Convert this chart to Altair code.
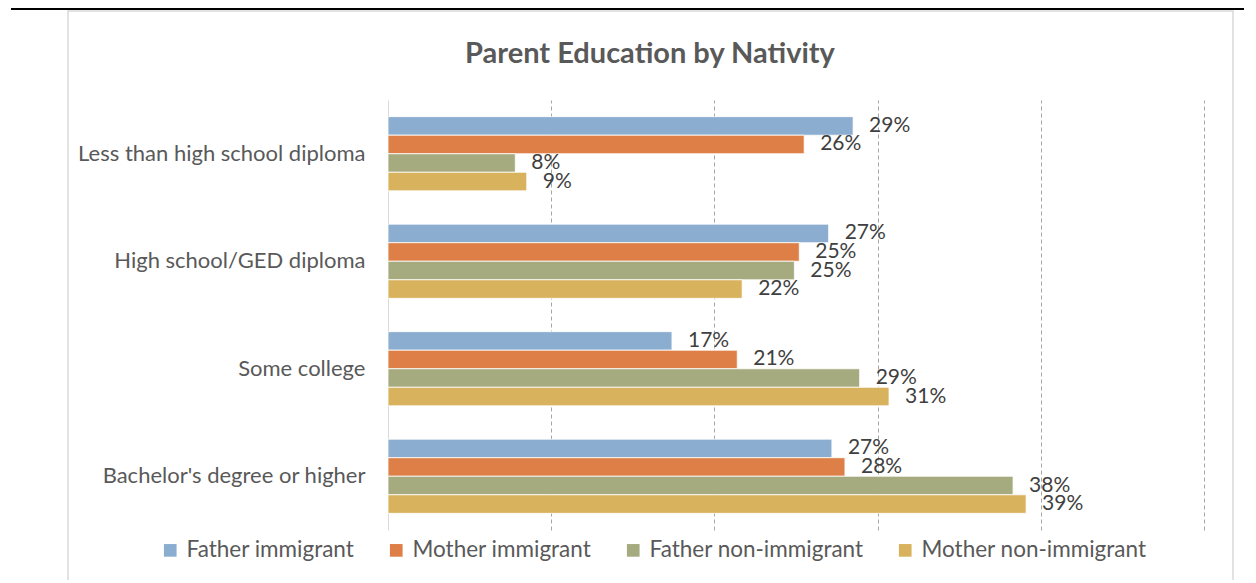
import altair as alt
import pandas as pd

title_text = "Parent Education by Nativity"
categories = ["Less than high school diploma", "High school/GED diploma",
              "Some college", "Bachelor's degree or higher"]
series = ["Father immigrant", "Mother immigrant", "Father non-immigrant", "Mother non-immigrant"]
colors = ["#8BADCF", "#DD7F46", "#A5AA7F", "#D8B25C"]

# values (fraction) per category, in series order
values = {
    "Less than high school diploma": [0.285, 0.255, 0.078, 0.085],
    "High school/GED diploma": [0.270, 0.252, 0.249, 0.217],
    "Some college": [0.174, 0.214, 0.289, 0.307],
    "Bachelor's degree or higher": [0.272, 0.280, 0.383, 0.391],
}
labels = {
    "Less than high school diploma": ["29%", "26%", "8%", "9%"],
    "High school/GED diploma": ["27%", "25%", "25%", "22%"],
    "Some college": ["17%", "21%", "29%", "31%"],
    "Bachelor's degree or higher": ["27%", "28%", "38%", "39%"],
}

rows = []
for c in categories:
    for s, v, l in zip(series, values[c], labels[c]):
        rows.append({"category": c, "series": s, "value": v, "label": l})
df = pd.DataFrame(rows)

FONT = "Lato"

y_enc = alt.Y("category:N", sort=categories,
              scale=alt.Scale(paddingInner=0.31, paddingOuter=0.155),
              axis=alt.Axis(title=None, ticks=False, domainColor="#d9d9d9", domainWidth=1,
                            labelFontSize=22, labelColor="#595959", labelFont=FONT,
                            labelPadding=23, labelLimit=400))
yoff = alt.YOffset("series:N", sort=series, scale=alt.Scale(paddingInner=0, paddingOuter=0))
x_enc = alt.X("value:Q", scale=alt.Scale(domain=[0, 0.5], nice=False),
              axis=alt.Axis(title=None, labels=False, ticks=False, domain=False,
                            values=[0.1, 0.2, 0.3, 0.4, 0.5], grid=True,
                            gridDash=[4, 3], gridColor="#a6a6a6", gridWidth=1))

base = alt.Chart(df)

bars = base.mark_bar(stroke="white", strokeWidth=0.8).encode(
    y=y_enc, yOffset=yoff, x=x_enc,
    color=alt.Color("series:N", sort=series,
                    scale=alt.Scale(domain=series, range=colors),
                    legend=alt.Legend(title=None, orient="none", direction="horizontal",
                                      columns=4, legendX=-229, legendY=439,
                                      symbolType="square", symbolSize=160,
                                      symbolStrokeWidth=0, labelFontSize=22.5,
                                      labelFont=FONT, labelColor="#595959",
                                      labelOffset=5, columnPadding=30, padding=0,
                                      labelLimit=400)),
)

texts = base.mark_text(align="left", baseline="middle", dx=16, fontSize=21,
                       font=FONT, color="#404040").encode(
    y=alt.Y("category:N", sort=categories), yOffset=alt.YOffset("series:N", sort=series),
    x="value:Q", text="label:N")

one = pd.DataFrame({"a": [0]})

frame = alt.Chart(one).mark_rect(
    fill=None, stroke="#d9d9d9", strokeWidth=1.5).encode(
    x=alt.value(-320), x2=alt.value(845), y=alt.value(-89), y2=alt.value(520))

topline = alt.Chart(one).mark_rect(fill="black").encode(
    x=alt.value(-377), x2=alt.value(856), y=alt.value(-92), y2=alt.value(-90))

title = alt.Chart(one).mark_text(
    fontSize=29, fontWeight="bold", font=FONT, color="#595959",
    align="center", baseline="middle").encode(
    x=alt.value(262), y=alt.value(-46), text=alt.value(title_text))

chart = alt.layer(frame, topline, title, bars, texts).properties(
    width=816, height=430,
    autosize=alt.AutoSizeParams(type="none"),
    padding={"left": 380, "top": 92, "right": 40, "bottom": 50},
).configure(background="white").configure_view(strokeWidth=0)

chart.save("out.html", embed_options={"renderer": "svg", "actions": False})
